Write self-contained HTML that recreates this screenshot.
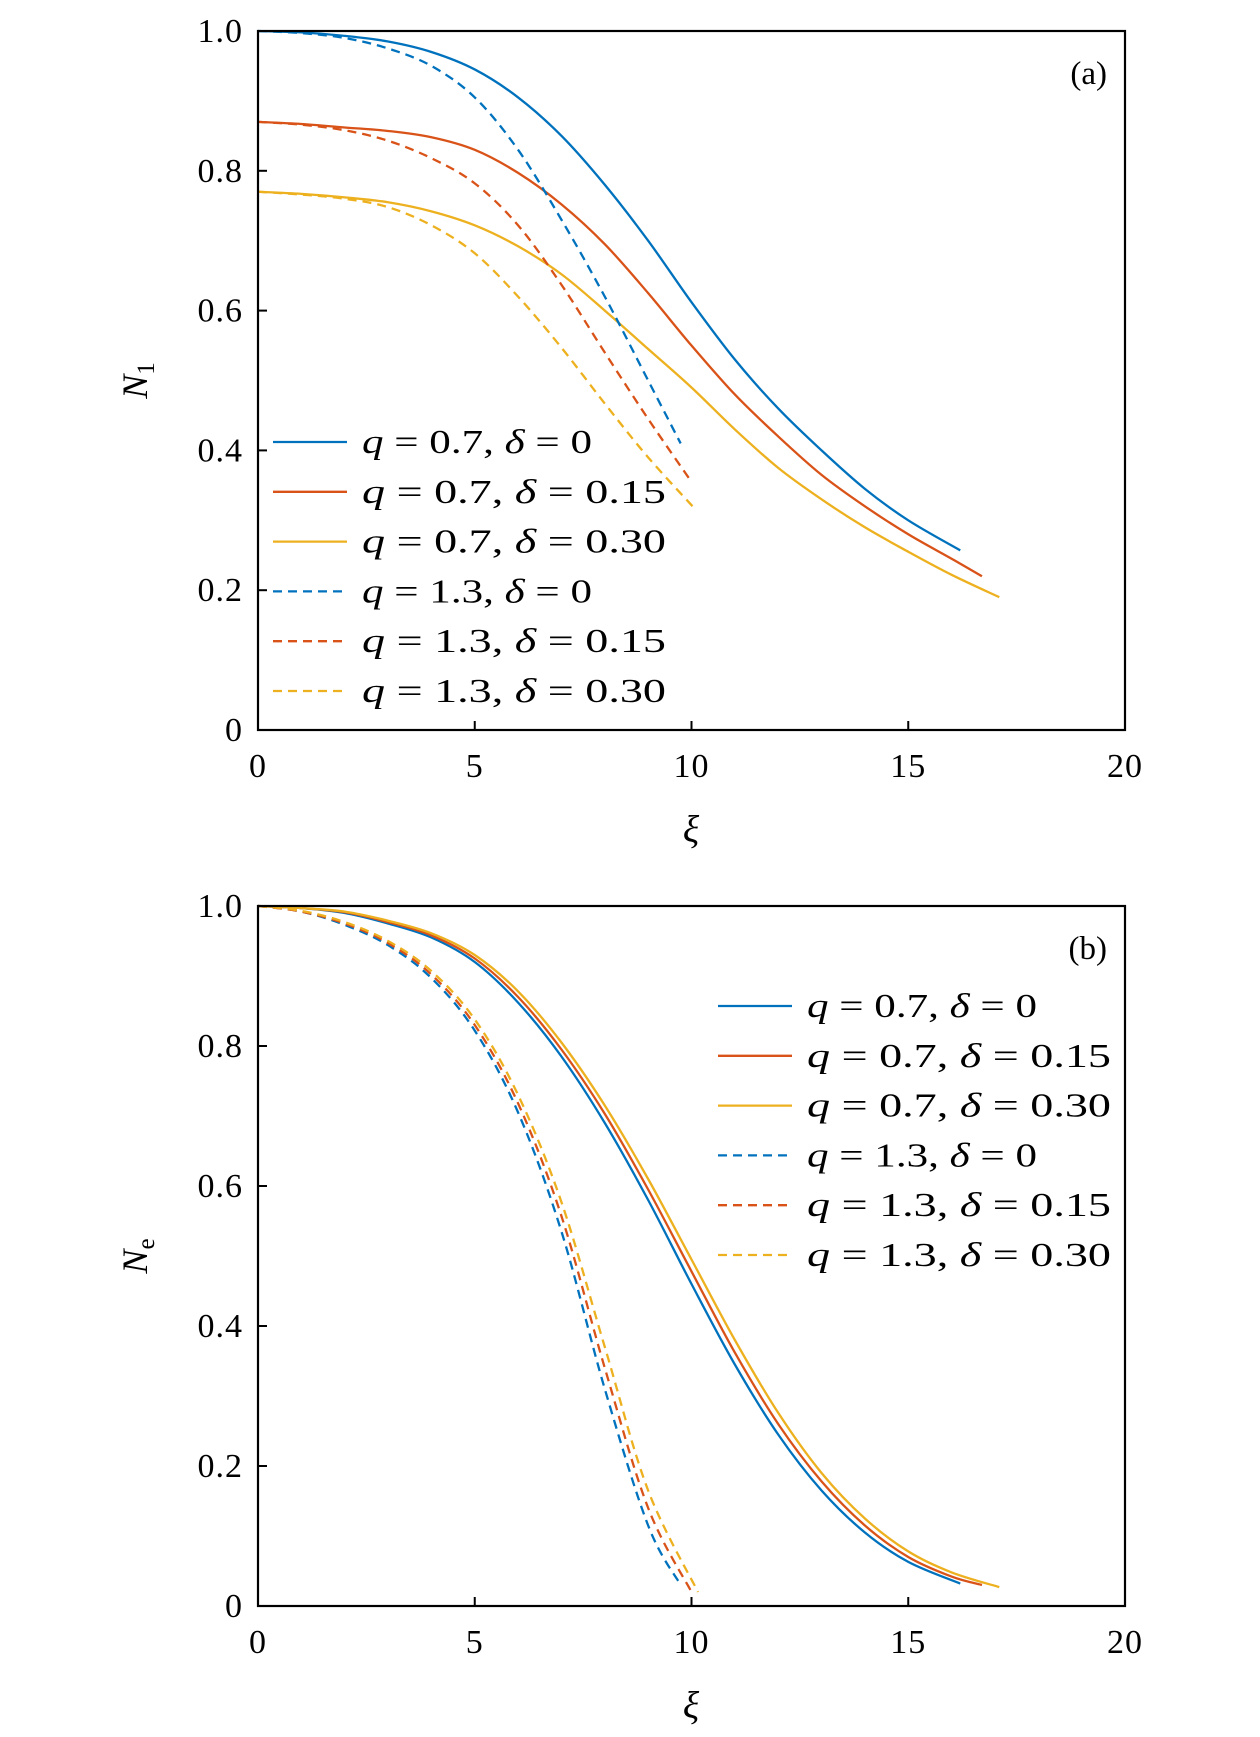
<!DOCTYPE html>
<html><head><meta charset="utf-8"><style>
html,body{margin:0;padding:0;background:#fff}
svg text{font-family:"Liberation Serif",serif;fill:#000}
</style></head><body>
<svg id="fig" width="1260" height="1732" viewBox="0 0 1260 1732" xmlns="http://www.w3.org/2000/svg"></svg>
<script>
const xTicks=[0,5,10,15,20];
const yTicks=[0,0.2,0.4,0.6,0.8,1.0];
const yTickLabels=["0","0.2","0.4","0.6","0.8","1.0"];
const legendLabels=["q = 0.7,  δ = 0","q = 0.7,  δ = 0.15","q = 0.7,  δ = 0.30","q = 1.3,  δ = 0","q = 1.3,  δ = 0.15","q = 1.3,  δ = 0.30"];
const colors=["#0072BD","#D95319","#EDB120","#0072BD","#D95319","#EDB120"];
const dashed=[false,false,false,true,true,true];
// Panel (a) N1
const a_x_s0=[0,1,2,3,4,5,6,7,8,9,10,11,12,13,14,15,16.2];
const a_y_s0=[1.0,0.998,0.993,0.985,0.97,0.945,0.905,0.85,0.78,0.70,0.612,0.53,0.46,0.40,0.345,0.30,0.257];
const a_x_s1=[0,1,2,3,4,5,6,7,8,9,10,11,12,13,14,15,16,16.7];
const a_y_s1=[0.87,0.867,0.862,0.857,0.848,0.83,0.797,0.752,0.695,0.625,0.55,0.48,0.42,0.365,0.32,0.28,0.245,0.22];
const a_x_s2=[0,1,2,3,4,5,6,7,8,9,10,11,12,13,14,15,16,17.1];
const a_y_s2=[0.77,0.767,0.762,0.755,0.742,0.722,0.692,0.652,0.60,0.545,0.49,0.43,0.375,0.33,0.29,0.255,0.222,0.19];
const a_x_d0=[0,1,2,3,4,5,6,7,8,9,9.75];
const a_y_d0=[1.0,0.997,0.99,0.975,0.95,0.905,0.83,0.73,0.62,0.50,0.41];
const a_x_d1=[0,1,2,3,4,5,6,7,8,9,10];
const a_y_d1=[0.87,0.866,0.858,0.843,0.818,0.782,0.722,0.637,0.54,0.445,0.355];
const a_x_d2=[0,1,2,3,4,5,6,7,8,9,10.1];
const a_y_d2=[0.77,0.766,0.76,0.748,0.722,0.682,0.62,0.547,0.467,0.39,0.315];
// Panel (b) Ne
const b_x_s0=[0,1,2,3,4,5,6,7,8,9,10,11,12,13,14,15,16.2];
const b_y_s0=[1.0,0.997,0.99,0.975,0.955,0.92,0.862,0.785,0.69,0.58,0.46,0.345,0.245,0.165,0.105,0.063,0.032];
const b_x_s1=[0,1,2,3,4,5,6,7,8,9,10,11,12,13,14,15,16,16.7];
const b_y_s1=[1.0,0.997,0.991,0.977,0.958,0.925,0.87,0.795,0.703,0.595,0.478,0.362,0.26,0.178,0.115,0.07,0.042,0.03];
const b_x_s2=[0,1,2,3,4,5,6,7,8,9,10,11,12,13,14,15,16,17.1];
const b_y_s2=[1.0,0.997,0.992,0.979,0.961,0.93,0.878,0.805,0.715,0.61,0.495,0.38,0.276,0.19,0.125,0.078,0.048,0.027];
const b_x_d0=[0,1,2,3,4,5,6,7,8,9,9.75];
const b_y_d0=[1.0,0.992,0.973,0.944,0.897,0.822,0.705,0.535,0.31,0.115,0.03];
const b_x_d1=[0,1,2,3,4,5,6,7,8,9,10.0];
const b_y_d1=[1.0,0.992,0.975,0.947,0.902,0.83,0.718,0.557,0.34,0.14,0.02];
const b_x_d2=[0,1,2,3,4,5,6,7,8,9,10.15];
const b_y_d2=[1.0,0.993,0.977,0.95,0.907,0.838,0.73,0.577,0.37,0.165,0.02];

const NS="http://www.w3.org/2000/svg";
const svg=document.getElementById('fig');
function mk(tag,attrs,parent){const e=document.createElementNS(NS,tag);for(const k in attrs)e.setAttribute(k,attrs[k]);(parent||svg).appendChild(e);return e;}
const X0=258,X1=1125;
function sx(v){return X0+(v-0)/(20-0)*(X1-X0);}
function pathFrom(xs,ys,syf){
  const p=xs.map((x,i)=>[sx(x),syf(ys[i])]);
  let d="M"+p[0][0].toFixed(2)+","+p[0][1].toFixed(2);
  for(let i=0;i<p.length-1;i++){
    const p0=p[Math.max(0,i-1)],p1=p[i],p2=p[i+1],p3=p[Math.min(p.length-1,i+2)];
    const c1=[p1[0]+(p2[0]-p0[0])/6,p1[1]+(p2[1]-p0[1])/6];
    const c2=[p2[0]-(p3[0]-p1[0])/6,p2[1]-(p3[1]-p1[1])/6];
    d+=" C"+c1[0].toFixed(2)+","+c1[1].toFixed(2)+" "+c2[0].toFixed(2)+","+c2[1].toFixed(2)+" "+p2[0].toFixed(2)+","+p2[1].toFixed(2);
  }
  return d;
}
function panel(cfg){
  const g=mk('g',{});
  
  
  const sy=v=>cfg.y0+(1-v)*(cfg.y1-cfg.y0);
  const sets=cfg.series;
  sets.forEach((s,i)=>{
    const p=mk('path',{d:pathFrom(s[0],s[1],sy),fill:'none',stroke:colors[i],'stroke-width':2.3,'stroke-dasharray':dashed[i]?'9,6':'none'},g);
    
    
  });
  const box=mk('rect',{x:X0,y:cfg.y0,width:X1-X0,height:cfg.y1-cfg.y0,fill:'none',stroke:'#000','stroke-width':2.2},g);
  
  
  xTicks.forEach(t=>{
    const x=sx(t);
    const l=mk('line',{x1:x,x2:x,y1:cfg.y1,y2:cfg.y1-9,stroke:'#000','stroke-width':2},g);
    
    
    const tx=mk('text',{x:x,y:cfg.y1+47,'font-size':34,'text-anchor':'middle','letter-spacing':1},g);
    tx.textContent=String(t);
    
    
  });
  yTicks.forEach((t,i)=>{
    const y=sy(t);
    const l=mk('line',{x1:X0,x2:X0+9,y1:y,y2:y,stroke:'#000','stroke-width':2},g);
    
    
    const tx=mk('text',{x:243,y:y+11,'font-size':34,'text-anchor':'end','letter-spacing':1},g);
    tx.textContent=yTickLabels[i];
    
    
  });
  const xl=mk('text',{x:691,y:cfg.y1+112,'font-size':38,'font-style':'italic','text-anchor':'middle'},g);
  xl.textContent='ξ';
  
  
  const ym=(cfg.y0+cfg.y1)/2;
  const yl=mk('text',{x:0,y:0,'font-size':36,'font-style':'italic','text-anchor':'middle',transform:`translate(147,${ym}) rotate(-90)`},g);
  yl.innerHTML='N<tspan font-style="normal" font-size="25" dy="7">'+cfg.sub+'</tspan>';
  
  
  const pl=mk('text',{x:1107,y:cfg.y0+53,'font-size':33,'text-anchor':'end'},g);
  pl.textContent=cfg.label;
  
  
  legendLabels.forEach((lab,i)=>{
    const y=cfg.legY+i*49.8;
    const lg=mk('g',{},g);
    
    
    mk('line',{x1:cfg.legX,x2:cfg.legX+74,y1:y,y2:y,stroke:colors[i],'stroke-width':2.3,'stroke-dasharray':dashed[i]?'9,6':'none'},lg);
    const t=mk('text',{x:cfg.legX+89,y:y+11,'font-size':34,textLength:(i===0||i===3)?230:304,lengthAdjust:'spacingAndGlyphs'},lg);
    t.innerHTML=lab.replace(/q/,'<tspan font-style="italic">q</tspan>').replace(/δ/,'<tspan font-style="italic">δ</tspan>');
  });
}
panel({name:'panel-a',prefix:'a',y0:31,y1:730,sub:'1',label:'(a)',legX:273,legY:442,
  series:[[a_x_s0,a_y_s0],[a_x_s1,a_y_s1],[a_x_s2,a_y_s2],[a_x_d0,a_y_d0],[a_x_d1,a_y_d1],[a_x_d2,a_y_d2]]});
panel({name:'panel-b',prefix:'b',y0:906,y1:1606,sub:'e',label:'(b)',legX:718,legY:1006,
  series:[[b_x_s0,b_y_s0],[b_x_s1,b_y_s1],[b_x_s2,b_y_s2],[b_x_d0,b_y_d0],[b_x_d1,b_y_d1],[b_x_d2,b_y_d2]]});
</script>
</body></html>
